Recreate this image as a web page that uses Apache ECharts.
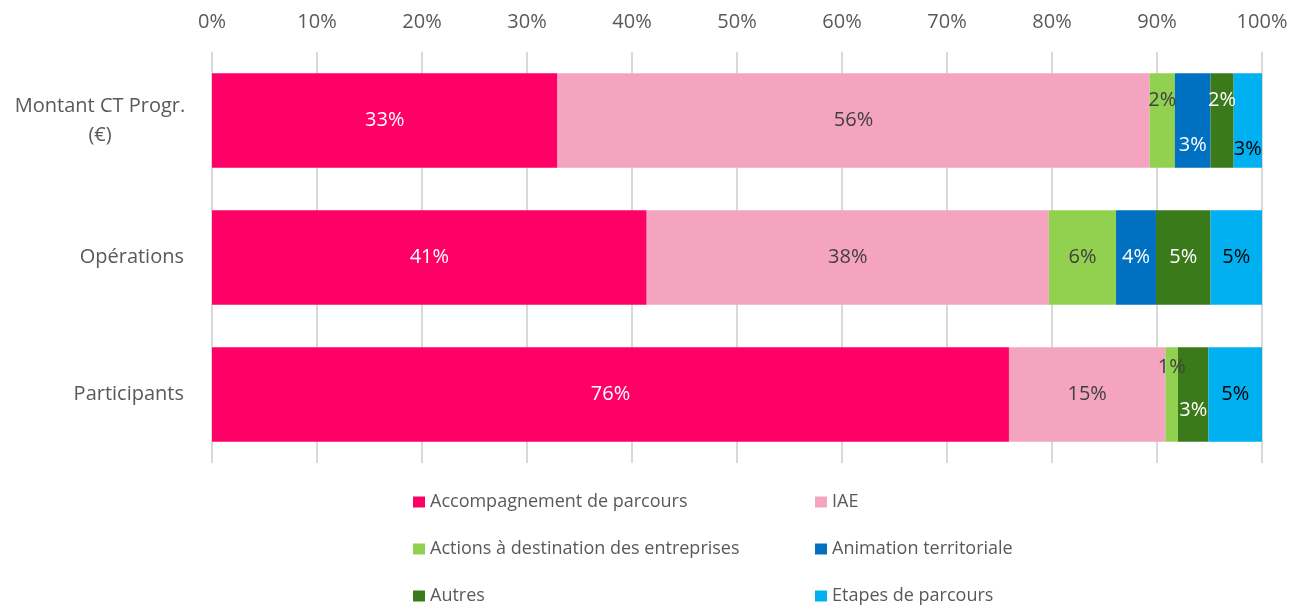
<!DOCTYPE html>
<html>
<head>
<meta charset="utf-8">
<script src="https://cdn.jsdelivr.net/npm/echarts@6/dist/echarts.min.js"></script>
<style>
  html, body { margin: 0; padding: 0; background: #fff; }
  #chart { width: 1300px; height: 610px; }
</style>
</head>
<body>
<div id="chart"></div>
<script>
// categories, top to bottom
const categories = ["Montant CT Progr.\n(€)", "Opérations", "Participants"];

// shares in % per category
const accompagnement = [32.9, 41.4, 75.9];
const iae = [56.4, 38.3, 14.9];
const actionsEntreprises = [2.4, 6.4, 1.2];
const animation = [3.4, 3.8, 0];
const autres = [2.2, 5.2, 2.9];
const etapes = [2.7, 4.9, 5.1];

const xTicks = [0, 10, 20, 30, 40, 50, 60, 70, 80, 90, 100];

const seriesDefs = [
  { name: "Accompagnement de parcours", data: accompagnement, color: "#FF0066", label: "#FFFFFF" },
  { name: "IAE", data: iae, color: "#F5A4C0", label: "#404040" },
  { name: "Actions à destination des entreprises", data: actionsEntreprises, color: "#92D050", label: "#404040" },
  { name: "Animation territoriale", data: animation, color: "#0070C0", label: "#FFFFFF" },
  { name: "Autres", data: autres, color: "#3B7A1A", label: "#FFFFFF" },
  { name: "Etapes de parcours", data: etapes, color: "#00B0F0", label: "#000000" }
];

// small segments get their label nudged up/down like the original
const nudges = {
  "2-0": -20, "3-0": 25, "4-0": -20, "5-0": 29,
  "2-2": -27, "4-2": 16
};

const FONT = "'Open Sans', sans-serif";

const chart = echarts.init(document.getElementById("chart"), null, { renderer: "canvas" });

const series = seriesDefs.map((s, si) => ({
  name: s.name,
  type: "bar",
  stack: "total",
  barCategoryGap: "31%",
  itemStyle: { color: s.color },
  label: {
    show: true,
    position: "inside",
    color: s.label,
    fontSize: 20,
    fontFamily: FONT,
    formatter: p => p.value > 0 ? Math.round(p.value) + "%" : ""
  },
  data: s.data.map((v, ci) => {
    const dy = nudges[si + "-" + ci];
    return dy ? { value: v, label: { offset: [0, dy] } } : v;
  })
}));

const legendCols = [413, 815];
const legendRows = [493, 540, 587];
const legends = seriesDefs.map((s, i) => ({
  data: [s.name],
  left: legendCols[i % 2],
  top: legendRows[Math.floor(i / 2)],
  itemWidth: 12,
  itemHeight: 11,
  itemGap: 0,
  icon: "rect",
  padding: 0,
  textStyle: { color: "#595959", fontSize: 18, fontFamily: FONT, padding: [0, 0, 0, 0] }
}));

chart.setOption({
  backgroundColor: "#FFFFFF",
  animation: false,
  legend: legends,
  grid: { left: 212, right: 38, top: 52, bottom: 147 },
  xAxis: {
    type: "value",
    position: "top",
    min: 0,
    max: 100,
    interval: 10,
    axisLine: { show: false },
    axisTick: { show: false },
    splitLine: { lineStyle: { color: "#D9D9D9", width: 2 } },
    axisLabel: {
      color: "#595959",
      fontSize: 20,
      fontFamily: FONT,
      margin: 20,
      formatter: v => xTicks.includes(v) ? v + "%" : ""
    }
  },
  yAxis: {
    type: "category",
    inverse: true,
    data: categories,
    axisLine: { show: false },
    axisTick: { show: false },
    axisLabel: {
      color: "#595959",
      fontSize: 20,
      fontFamily: FONT,
      margin: 28,
      formatter: v => v.includes("\n")
        ? v.split("\n").map(l => "{c|" + l + "}").join("\n")
        : v,
      rich: {
        c: { width: 168, align: "center", color: "#595959", fontSize: 20, fontFamily: FONT, lineHeight: 29 }
      }
    }
  },
  series: series
});
</script>
</body>
</html>
